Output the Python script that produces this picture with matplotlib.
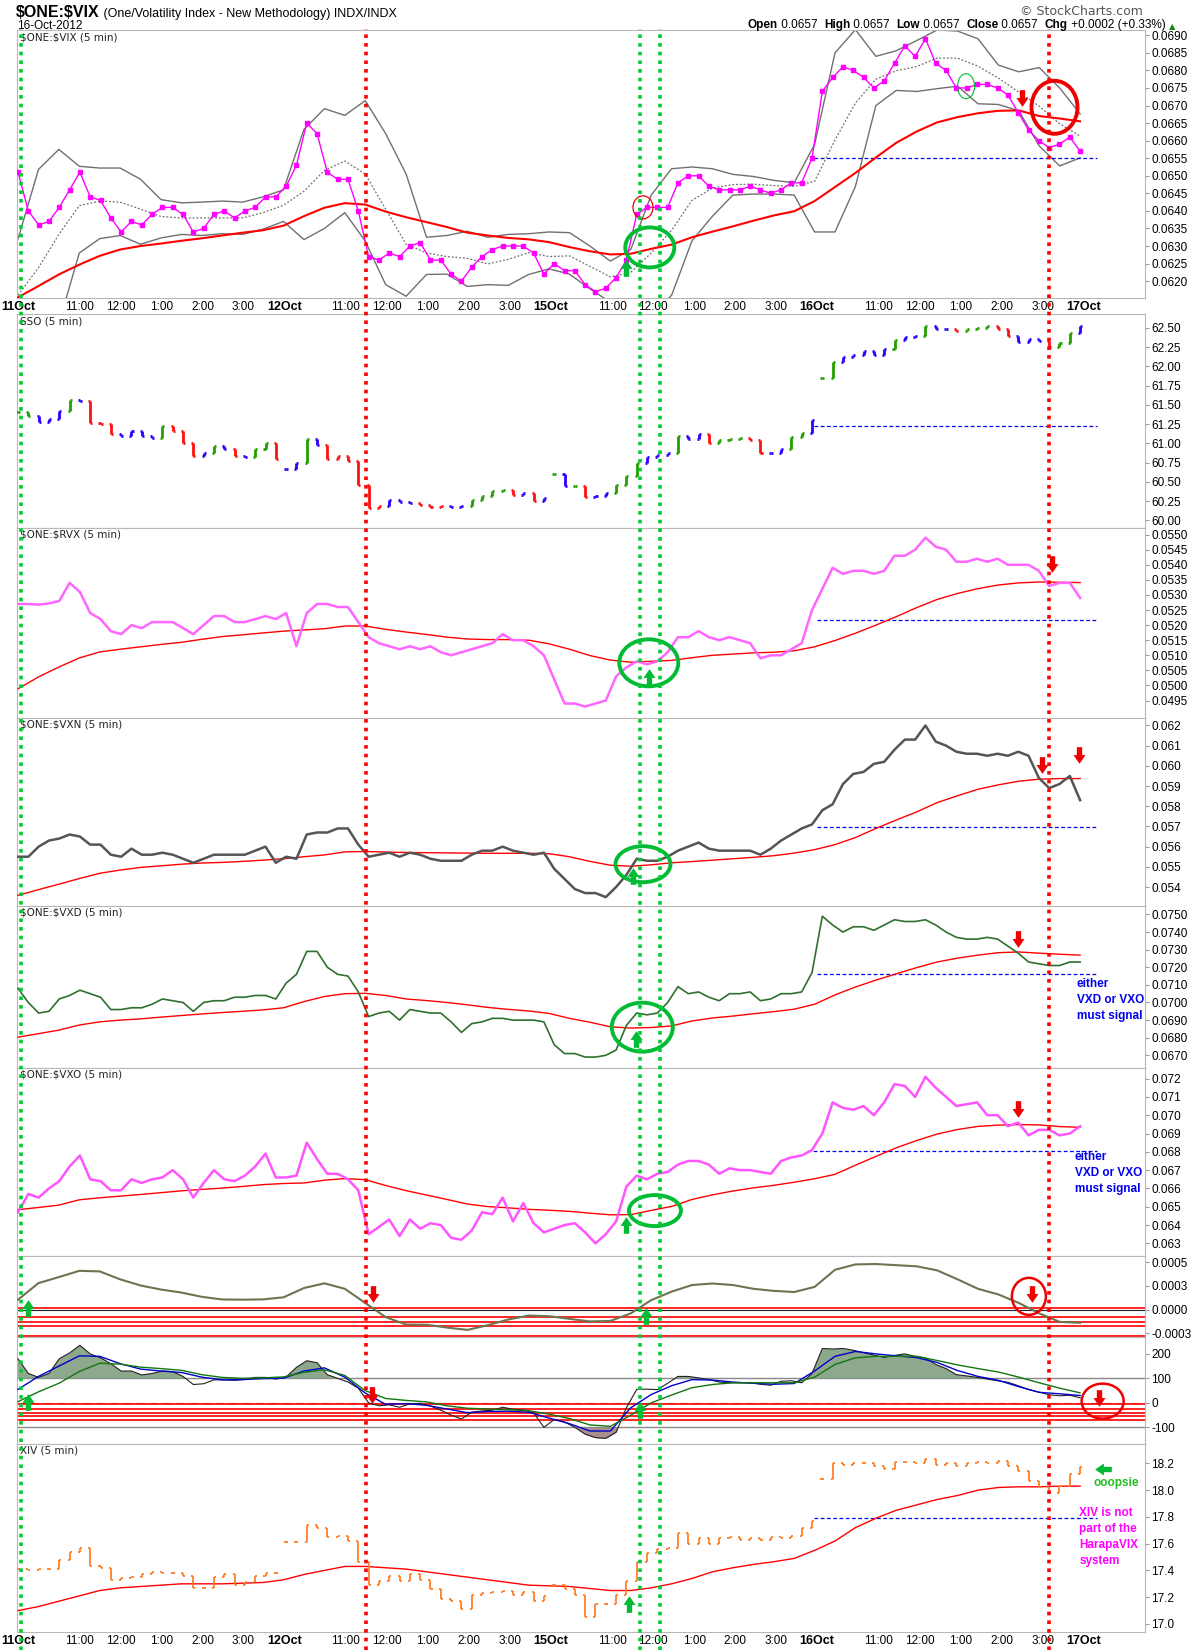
import numpy as np
import matplotlib
matplotlib.use("Agg")
import matplotlib.pyplot as plt
import matplotlib.transforms as mtransforms
from matplotlib.path import Path
from matplotlib.patches import Ellipse

plt.rcParams["font.family"] = ["Liberation Sans", "DejaVu Sans"]

# time axis: four sessions (11, 12, 15, 16 Oct) of 78 five-minute bars
bars_per_day = 78
day_labels = ["11Oct", "12Oct", "15Oct", "16Oct", "17Oct"]
hour_labels = ["11:00", "12:00", "1:00", "2:00", "3:00"]
hour_offsets = [18, 30, 42, 54, 66]
t = np.linspace(0, 311, 104)   # 15-minute samples
tc = np.linspace(0, 311, 53)   # 30-minute samples for smooth overlays
day_start_idx = [26, 52, 78]

# signal lines (bar index, colour)
signal_bars = [1, 102, 182, 188, 302]
signal_cols = ["#00cc33", "#ff0000", "#00cc33", "#00cc33", "#ff0000"]

# ---------------- $ONE:$VIX ----------------
vix = np.array([
    0.0651, 0.0640, 0.0636, 0.0637, 0.0641, 0.0646, 0.0651, 0.0644, 0.0643, 0.0638, 0.0634, 0.0637, 0.0636,
    0.0639, 0.0641, 0.0641, 0.0639, 0.0634, 0.0635, 0.0639, 0.0640, 0.0638, 0.0640, 0.0641, 0.0644, 0.0644,
    0.0647, 0.0653, 0.0665, 0.0662, 0.0651, 0.0649, 0.0649, 0.0640, 0.0627, 0.0626, 0.0628, 0.0627, 0.0630,
    0.0631, 0.0626, 0.0626, 0.0622, 0.0620, 0.0624, 0.0627, 0.0629, 0.0630, 0.0630, 0.0630, 0.0628, 0.0622,
    0.0625, 0.0623, 0.0623, 0.0619, 0.0617, 0.0618, 0.0621, 0.0626, 0.0639, 0.0641, 0.0641, 0.0641, 0.0648,
    0.0650, 0.0650, 0.0647, 0.0646, 0.0646, 0.0646, 0.0647, 0.0646, 0.0645, 0.0646, 0.0648, 0.0648, 0.0655,
    0.0674, 0.0678, 0.0681, 0.0680, 0.0678, 0.0675, 0.0677, 0.0682, 0.0687, 0.0684, 0.0689, 0.0682, 0.0680,
    0.0675, 0.0675, 0.0676, 0.0676, 0.0675, 0.0673, 0.0668, 0.0663, 0.0660, 0.0658, 0.0659, 0.0661, 0.0657])
vix_ma = np.array([
    0.06154, 0.06186, 0.06219, 0.06247, 0.06272, 0.06290, 0.06300, 0.06307, 0.06315, 0.06322, 0.06330, 0.06338, 0.06345,
    0.06358, 0.06385, 0.06409, 0.06422, 0.06418, 0.06398, 0.06382, 0.06368, 0.06354, 0.06338, 0.06330, 0.06323, 0.06319,
    0.06311, 0.06297, 0.06285, 0.06276, 0.06278, 0.06292, 0.06304, 0.06325, 0.06341, 0.06356, 0.06372, 0.06387, 0.06399,
    0.06428, 0.06468, 0.06508, 0.06552, 0.06594, 0.06626, 0.06652, 0.06667, 0.06678, 0.06685, 0.06686, 0.06670, 0.06663,
    0.06655])
vix_bb_up = np.array([
    0.0632, 0.06518, 0.06575, 0.06527, 0.06522, 0.06522, 0.0649, 0.06432, 0.06423, 0.06425, 0.06428, 0.06425, 0.0644,
    0.0646, 0.06632, 0.06691, 0.06672, 0.06714, 0.0662, 0.06505, 0.06325, 0.0633, 0.06342, 0.06325, 0.06333, 0.06335,
    0.0634, 0.06338, 0.063, 0.06257, 0.0629, 0.06445, 0.0652, 0.06525, 0.0652, 0.06504, 0.06498, 0.06487, 0.0648,
    0.06589, 0.0685, 0.06916, 0.0684, 0.06856, 0.06885, 0.06915, 0.06912, 0.0689, 0.06815, 0.06796, 0.06808, 0.0675,
    0.06676])
vix_bb_lo = np.array([
    0.0606, 0.0606, 0.0608, 0.0628, 0.06321, 0.0633, 0.06305, 0.06323, 0.06333, 0.0633, 0.06335, 0.06333, 0.06348,
    0.0637, 0.06318, 0.0635, 0.06395, 0.06314, 0.0619, 0.06157, 0.06219, 0.0622, 0.06185, 0.0619, 0.06188, 0.06219,
    0.06235, 0.0622, 0.06178, 0.0614, 0.0610, 0.0610, 0.0616, 0.06315, 0.06385, 0.06445, 0.06448, 0.06448, 0.06445,
    0.0634, 0.0634, 0.0647, 0.0670, 0.06743, 0.0674, 0.06748, 0.06755, 0.06705, 0.06703, 0.06685, 0.06585, 0.06528,
    0.06551])
vix_bb_mid = np.array([
    0.0616, 0.06238, 0.06333, 0.06415, 0.06428, 0.06425, 0.06405, 0.06384, 0.0638, 0.0638, 0.0638, 0.0638, 0.06395,
    0.06416, 0.06456, 0.06515, 0.06542, 0.06505, 0.06405, 0.06305, 0.0628, 0.0627, 0.06265, 0.06249, 0.06262, 0.06281,
    0.0627, 0.06272, 0.06242, 0.06212, 0.06225, 0.0628, 0.06345, 0.0643, 0.06465, 0.06475, 0.06476, 0.06472, 0.0647,
    0.06484, 0.06602, 0.06707, 0.06775, 0.06799, 0.06811, 0.06835, 0.06835, 0.06812, 0.06778, 0.06738, 0.06698, 0.06648,
    0.06613])

# ---------------- SSO ----------------
sso = np.array([
    61.41, 61.35, 61.28, 61.31, 61.42, 61.56, 61.55, 61.26, 61.25, 61.12, 61.10, 61.16, 61.09,
    61.07, 61.22, 61.16, 61.00, 60.83, 60.87, 60.96, 60.93, 60.84, 60.82, 60.93, 61.00, 60.80,
    60.66, 60.74, 61.05, 60.98, 60.79, 60.83, 60.77, 60.46, 60.16, 60.18, 60.27, 60.24, 60.22,
    60.20, 60.17, 60.19, 60.17, 60.18, 60.27, 60.32, 60.38, 60.40, 60.33, 60.36, 60.25, 60.29,
    60.60, 60.44, 60.45, 60.30, 60.32, 60.35, 60.46, 60.57, 60.75, 60.82, 60.85, 60.88, 61.10,
    61.06, 61.12, 61.00, 61.04, 61.06, 61.07, 61.04, 60.87, 60.87, 60.92, 61.08, 61.14, 61.30,
    61.85, 62.05, 62.12, 62.15, 62.20, 62.15, 62.22, 62.34, 62.38, 62.39, 62.52, 62.48, 62.48,
    62.46, 62.48, 62.50, 62.52, 62.48, 62.40, 62.32, 62.35, 62.33, 62.25, 62.30, 62.43, 62.53])
sso_trend = ("GGBBBGBRRRBBB" "BGRRRBGBRBGGR" "BBGBRRRRRRBBB" "RRRBBGGGGRBRB"
             "GBGRBBGGGBBBG" "BBRGGGRRBBGGB" "GGBBBBBGBBGBB" "RGGGRRBBBRGGB")

# ---------------- $ONE:$RVX ----------------
rvx = np.array([
    0.0527, 0.0527, 0.05268, 0.05272, 0.0528, 0.0534, 0.0531, 0.0524, 0.0522, 0.0518, 0.0517, 0.0520, 0.0519,
    0.0521, 0.0521, 0.0521, 0.0519, 0.0517, 0.0520, 0.0523, 0.0523, 0.0521, 0.0521, 0.0522, 0.0523, 0.0522,
    0.0524, 0.0513, 0.0524, 0.0527, 0.0527, 0.0526, 0.0526, 0.0521, 0.0516, 0.0514, 0.0513, 0.0512, 0.0513,
    0.0512, 0.0513, 0.0511, 0.0510, 0.0511, 0.0512, 0.0513, 0.0514, 0.0517, 0.0515, 0.0515, 0.0513, 0.0510,
    0.0502, 0.0494, 0.0494, 0.0493, 0.0494, 0.0495, 0.0503, 0.0506, 0.0508, 0.0507, 0.0508, 0.0511, 0.0516,
    0.0516, 0.0518, 0.0516, 0.0515, 0.0516, 0.0515, 0.0514, 0.0509, 0.0510, 0.0510, 0.0512, 0.0514, 0.0525,
    0.0532, 0.0539, 0.0537, 0.0538, 0.0538, 0.0537, 0.0538, 0.0543, 0.0543, 0.0545, 0.0549, 0.0546, 0.0545,
    0.0541, 0.0541, 0.0542, 0.0541, 0.0542, 0.0540, 0.0540, 0.0540, 0.0538, 0.0533, 0.0534, 0.0534, 0.0529])
rvx_ma = np.array([
    0.04989, 0.05028, 0.05061, 0.05091, 0.05111, 0.05120, 0.05128, 0.05136, 0.05143, 0.05153, 0.05162, 0.05168, 0.05174,
    0.05180, 0.05184, 0.05188, 0.05197, 0.05197, 0.05186, 0.05177, 0.05169, 0.05160, 0.05154, 0.05152, 0.05152, 0.05150,
    0.05138, 0.05120, 0.05099, 0.05084, 0.05077, 0.05080, 0.05083, 0.05092, 0.05100, 0.05104, 0.05108, 0.05110, 0.05115,
    0.05128, 0.05149, 0.05173, 0.05200, 0.05228, 0.05258, 0.05285, 0.05305, 0.05321, 0.05333, 0.05340, 0.05343, 0.05342,
    0.05341])

# ---------------- $ONE:$VXN ----------------
vxn = np.array([
    0.0555, 0.0555, 0.0560, 0.0563, 0.0564, 0.0566, 0.0565, 0.0561, 0.0561, 0.0556, 0.0555, 0.0559, 0.0556,
    0.0556, 0.0557, 0.0556, 0.0554, 0.0552, 0.0554, 0.0556, 0.0556, 0.0556, 0.0556, 0.0558, 0.0560, 0.0552,
    0.0555, 0.0554, 0.0566, 0.0567, 0.0567, 0.0569, 0.0569, 0.0561, 0.0555, 0.0556, 0.0557, 0.0555, 0.0557,
    0.0556, 0.0554, 0.0553, 0.0553, 0.0553, 0.0556, 0.0558, 0.0558, 0.0560, 0.0558, 0.0557, 0.0556, 0.0557,
    0.0549, 0.0544, 0.0539, 0.0537, 0.0537, 0.0535, 0.0540, 0.0546, 0.0554, 0.0553, 0.0553, 0.0555, 0.0558,
    0.0560, 0.0562, 0.0559, 0.0558, 0.0558, 0.0558, 0.0558, 0.0556, 0.0559, 0.0563, 0.0566, 0.0569, 0.0571,
    0.0578, 0.0581, 0.0591, 0.0596, 0.0597, 0.0601, 0.0602, 0.0608, 0.0613, 0.0613, 0.0620, 0.0612, 0.0610,
    0.0607, 0.0606, 0.0606, 0.0605, 0.0606, 0.0605, 0.0607, 0.0605, 0.0594, 0.0589, 0.0591, 0.0595, 0.0583])
vxn_ma = np.array([
    0.05359, 0.05387, 0.05414, 0.05442, 0.05468, 0.05484, 0.05497, 0.05505, 0.05513, 0.05519, 0.05522, 0.05527, 0.05533,
    0.05540, 0.05550, 0.05559, 0.05574, 0.05576, 0.05573, 0.05571, 0.05570, 0.05569, 0.05568, 0.05567, 0.05567, 0.05567,
    0.05565, 0.05550, 0.05527, 0.05508, 0.05503, 0.05510, 0.05520, 0.05526, 0.05533, 0.05540, 0.05547, 0.05555, 0.05568,
    0.05585, 0.05610, 0.05645, 0.05690, 0.05732, 0.05772, 0.05818, 0.05852, 0.05884, 0.05906, 0.05924, 0.05934, 0.05937,
    0.05937])

# ---------------- $ONE:$VXD ----------------
vxd = np.array([
    0.0708, 0.0700, 0.0694, 0.0695, 0.0702, 0.0704, 0.0707, 0.0705, 0.0703, 0.0696, 0.0696, 0.0697, 0.0697,
    0.0699, 0.0702, 0.0701, 0.0700, 0.0695, 0.0700, 0.0701, 0.0701, 0.0703, 0.0703, 0.0704, 0.0704, 0.0702,
    0.0711, 0.0716, 0.0729, 0.0729, 0.0720, 0.0716, 0.0715, 0.0706, 0.0692, 0.0694, 0.0695, 0.0690, 0.0696,
    0.0695, 0.0694, 0.0694, 0.0689, 0.0683, 0.0688, 0.0689, 0.0691, 0.0691, 0.0690, 0.0690, 0.0690, 0.0689,
    0.0676, 0.0671, 0.0671, 0.0669, 0.0669, 0.0670, 0.0673, 0.0687, 0.0694, 0.0693, 0.0694, 0.0700, 0.0709,
    0.0705, 0.0706, 0.0703, 0.0701, 0.0705, 0.0705, 0.0706, 0.0701, 0.0702, 0.0705, 0.0705, 0.0706, 0.0717,
    0.0749, 0.0744, 0.0740, 0.0743, 0.0743, 0.0741, 0.0744, 0.0747, 0.0746, 0.0746, 0.0747, 0.0744, 0.0740,
    0.0737, 0.0736, 0.0736, 0.0737, 0.0736, 0.0732, 0.0728, 0.0723, 0.0722, 0.0721, 0.0721, 0.0723, 0.0723])
vxd_ma = np.array([
    0.06803, 0.06823, 0.06843, 0.06872, 0.06890, 0.06900, 0.06907, 0.06917, 0.06926, 0.06935, 0.06943, 0.06950, 0.06958,
    0.06970, 0.07005, 0.07034, 0.07050, 0.07052, 0.07040, 0.07020, 0.07011, 0.07000, 0.06987, 0.06972, 0.06961, 0.06952,
    0.06938, 0.06910, 0.06888, 0.06862, 0.06855, 0.06858, 0.06867, 0.06895, 0.06912, 0.06923, 0.06936, 0.06948, 0.06962,
    0.06990, 0.07043, 0.07088, 0.07127, 0.07163, 0.07198, 0.07230, 0.07252, 0.07269, 0.07283, 0.07287, 0.07280, 0.07274,
    0.07269])

# ---------------- $ONE:$VXO ----------------
vxo = np.array([
    0.0647, 0.0657, 0.0655, 0.0660, 0.0664, 0.0672, 0.0678, 0.0665, 0.0664, 0.0659, 0.0659, 0.0665, 0.0663,
    0.0665, 0.0666, 0.0670, 0.0665, 0.0655, 0.0663, 0.0670, 0.0665, 0.0664, 0.0667, 0.0672, 0.0679, 0.0666,
    0.0666, 0.0667, 0.0685, 0.0676, 0.0668, 0.0668, 0.0665, 0.0659, 0.0635, 0.0639, 0.0643, 0.0634, 0.0643,
    0.0638, 0.0641, 0.0640, 0.0633, 0.0632, 0.0637, 0.0647, 0.0646, 0.0655, 0.0642, 0.0652, 0.0641, 0.0636,
    0.0638, 0.0640, 0.0641, 0.0636, 0.0630, 0.0635, 0.0642, 0.0661, 0.0667, 0.0665, 0.0668, 0.0669, 0.0673,
    0.0675, 0.0675, 0.0673, 0.0668, 0.0671, 0.0670, 0.0670, 0.0669, 0.0668, 0.0675, 0.0677, 0.0678, 0.0681,
    0.0690, 0.0707, 0.0704, 0.0703, 0.0705, 0.0700, 0.0707, 0.0717, 0.0716, 0.0710, 0.0721, 0.0715, 0.0710,
    0.0705, 0.0706, 0.0707, 0.0700, 0.0700, 0.0694, 0.0696, 0.0689, 0.0692, 0.0692, 0.0689, 0.0690, 0.0694])
vxo_ma = np.array([
    0.06484, 0.06496, 0.06509, 0.06538, 0.06549, 0.06558, 0.06567, 0.06577, 0.06587, 0.06595, 0.06602, 0.06611, 0.06621,
    0.06627, 0.06630, 0.06645, 0.06654, 0.06648, 0.06616, 0.06588, 0.06564, 0.06540, 0.06515, 0.06501, 0.06494, 0.06486,
    0.06481, 0.06475, 0.06465, 0.06456, 0.06457, 0.06480, 0.06502, 0.06540, 0.06565, 0.06586, 0.06603, 0.06617, 0.06634,
    0.06653, 0.06677, 0.06727, 0.06775, 0.06822, 0.06862, 0.06897, 0.06922, 0.06939, 0.06946, 0.06949, 0.06947, 0.06938,
    0.06934])

# ---------------- oscillator panel ----------------
osc = np.array([
    0.000105, 0.00028, 0.000344, 0.00041, 0.000404, 0.00032, 0.000255, 0.000212, 0.00018, 0.000135, 0.000107, 0.000105, 0.000108,
    0.00013, 0.000228, 0.000278, 0.00022, 0.00007, -0.00008, -0.000158, -0.00016, -0.00019, -0.000215, -0.000165, -0.000105, -0.000063,
    -0.00007, -0.000098, -0.000125, -0.00012, -0.00004, 0.0001, 0.00019, 0.00026, 0.000276, 0.00026, 0.00022, 0.000198, 0.000186,
    0.00024, 0.000421, 0.000478, 0.000482, 0.00047, 0.000458, 0.000415, 0.00032, 0.00022, 0.00016, 0.00007, -0.00004, -0.00013,
    -0.00014])
osc_levels = [0.00002, -0.00008, -0.00013, -0.000175, -0.00028]

# ---------------- CCI style panel ----------------
cci = np.array([
    180, 120, 104, 120, 180, 204, 235, 200, 184, 160, 130, 130, 114,
    120, 130, 128, 108, 75, 78, 94, 94, 92, 96, 104, 104, 97,
    105, 145, 172, 164, 115, 100, 85, 60, 0, -12, -8, -18, -4,
    -2, -13, -30, -50, -66, -38, -33, -30, -18, -26, -29, -40, -100,
    -68, -78, -100, -128, -142, -145, -120, -20, 55, 56, 54, 80, 108,
    108, 102, 95, 85, 82, 82, 82, 76, 72, 88, 90, 82, 120,
    222, 220, 222, 215, 205, 195, 186, 194, 200, 190, 184, 157, 140,
    115, 110, 104, 97, 90, 84, 70, 54, 44, 33, 29, 31, 21])
cci_fast = np.array([
    55, 108, 150, 192, 190, 160, 138, 130, 124, 105, 94, 95, 99,
    101, 130, 143, 105, 40, -6, -3, -10, -25, -40, -35, -34, -38,
    -62, -85, -115, -115, -20, 34, 70, 95, 93, 85, 80, 76, 79,
    130, 190, 210, 200, 192, 185, 165, 132, 108, 92, 66, 43, 37,
    30])
cci_slow = np.array([
    5, 45, 80, 128, 162, 158, 146, 140, 133, 115, 104, 100, 102,
    106, 125, 135, 112, 50, 18, 10, 4, -12, -22, -25, -28, -32,
    -46, -64, -90, -96, -50, 0, 32, 62, 75, 82, 82, 82, 82,
    105, 157, 184, 190, 190, 190, 173, 155, 140, 126, 105, 82, 60,
    41])
cci_levels = [-6, -24, -40, -54, -68]

# ---------------- XIV ----------------
xiv = np.array([
    17.41, 17.40, 17.41, 17.41, 17.48, 17.54, 17.57, 17.43, 17.42, 17.33, 17.34, 17.35, 17.37,
    17.39, 17.38, 17.38, 17.36, 17.27, 17.27, 17.35, 17.37, 17.29, 17.31, 17.36, 17.38, 17.38,
    17.61, 17.61, 17.74, 17.72, 17.65, 17.66, 17.62, 17.46, 17.29, 17.32, 17.36, 17.32, 17.37,
    17.33, 17.26, 17.19, 17.17, 17.11, 17.22, 17.23, 17.24, 17.25, 17.22, 17.24, 17.17, 17.21,
    17.29, 17.26, 17.22, 17.05, 17.15, 17.15, 17.22, 17.32, 17.46, 17.53, 17.56, 17.57, 17.68,
    17.60, 17.64, 17.60, 17.64, 17.65, 17.63, 17.64, 17.63, 17.65, 17.64, 17.66, 17.72, 17.77,
    18.08, 18.20, 18.19, 18.20, 18.20, 18.18, 18.16, 18.21, 18.21, 18.20, 18.23, 18.19, 18.20,
    18.18, 18.20, 18.21, 18.20, 18.22, 18.18, 18.14, 18.07, 18.02, 17.98, 18.03, 18.12, 18.17])
xiv_ma = np.array([
    17.10, 17.13, 17.17, 17.21, 17.25, 17.27, 17.28, 17.29, 17.30, 17.30, 17.30, 17.305, 17.31,
    17.33, 17.37, 17.40, 17.43, 17.43, 17.42, 17.41, 17.39, 17.37, 17.35, 17.33, 17.31, 17.29,
    17.285, 17.28, 17.265, 17.25, 17.25, 17.27, 17.30, 17.34, 17.39, 17.42, 17.445, 17.465, 17.49,
    17.55, 17.62, 17.72, 17.79, 17.85, 17.89, 17.93, 17.96, 18.00, 18.02, 18.025, 18.025, 18.03,
    18.03])

# prior-day close references (blue dashed): (level, first bar)
ref_vix = (0.0655, 233)
ref_sso = (61.23, 233)
ref_rvx = (0.05218, 234)
ref_vxn = (0.05699, 234)
ref_vxd = (0.07159, 234)
ref_vxo = (0.06807, 231)
ref_xiv = (17.79, 233)

# ---------------------------------------------------------------
W, H = 1200, 1650
fig = plt.figure(figsize=(W / 100, H / 100), dpi=100)
LEFT, RIGHT = 17, 1145
XLIM = (-0.3, 330)


def panel(top, bottom, ylim, ticks, fmt):
    ax = fig.add_axes([LEFT / W, 1 - bottom / H, (RIGHT - LEFT) / W, (bottom - top) / H])
    ax.set_xlim(*XLIM)
    ax.set_ylim(*ylim)
    ax.yaxis.tick_right()
    ax.set_yticks(ticks, [fmt(v) for v in ticks])
    ax.tick_params(axis="y", length=3, width=0.8, pad=1.5, labelsize=8.5, color="#999999")
    ax.tick_params(axis="x", length=0, labelbottom=False)
    for s in ax.spines.values():
        s.set_color("#b8b8b8")
    return ax


def name(ax, text):
    ax.text(0.003, 0.99, text, transform=ax.transAxes, va="top", ha="left",
            fontsize=7.5, family="DejaVu Sans", color="#222222")


def ref_line(ax, ref):
    ax.hlines(ref[0], ref[1], 316, colors="#0000ee", lw=0.9, linestyles=(0, (3, 2)), zorder=2)


def ma_line(ax, y, lw=1.0):
    ax.plot(tc, y, color="#ff0000", lw=lw, zorder=3)


def price_bars(ax, close, colors, lw):
    opens = np.r_[close[0], close[:-1]]
    opens[day_start_idx] = close[day_start_idx]
    ax.vlines(t, np.minimum(opens, close), np.maximum(opens, close), colors=colors, lw=lw, zorder=3)
    ax.hlines(opens, t - 0.6, t, colors=colors, lw=lw, zorder=3)
    ax.hlines(close, t, t + 0.6, colors=colors, lw=lw, zorder=3)


def ring(ax, x, y, w, h, color, lw):
    tr = fig.dpi_scale_trans + mtransforms.ScaledTranslation(x, y, ax.transData)
    ax.add_patch(Ellipse((0, 0), w / 100, h / 100, transform=tr, fill=False,
                         ec=color, lw=lw, clip_on=False, zorder=7))


_down = np.array([(-0.32, 1), (0.32, 1), (0.32, 0.05), (0.72, 0.05), (0, -1),
                  (-0.72, 0.05), (-0.32, 0.05), (-0.32, 1)])
ARROW = {
    "down": Path(_down, closed=True),
    "up": Path(_down * [1, -1], closed=True),
    "left": Path(_down[:, ::-1], closed=True),
}


def arrow(ax, x, y, kind, color, ms=12):
    ax.plot([x], [y], marker=ARROW[kind], ms=ms, color=color, mec="none",
            ls="none", zorder=8, clip_on=False)


RED, GREEN = "#ee0000", "#00bb33"

# -------- panel 1: VIX with Bollinger bands --------
ax1 = panel(30, 298, (0.06152, 0.06915), np.arange(0.0620, 0.06901, 0.0005), lambda v: f"{v:.4f}")
name(ax1, "\\$ONE:\\$VIX (5 min)")
ax1.plot(tc, vix_bb_up, color="#707070", lw=1.0, zorder=2)
ax1.plot(tc, vix_bb_lo, color="#707070", lw=1.0, zorder=2)
ax1.plot(tc, vix_bb_mid, color="#707070", lw=0.9, ls=(0, (1.5, 1.5)), zorder=2)
ma_line(ax1, vix_ma, lw=1.5)
ref_line(ax1, ref_vix)
ax1.plot(t, vix, color="#ff00ff", lw=1.0, marker="s", ms=2.4, zorder=4)
ring(ax1, 183, 0.0641, 20, 23, RED, 0.9)
ring(ax1, 185, 0.06296, 49, 40, GREEN, 2.8)
arrow(ax1, 178, 0.06238, "up", GREEN)
ring(ax1, 277.6, 0.06755, 17, 25, GREEN, 0.8)
arrow(ax1, 294, 0.06722, "down", RED)
ring(ax1, 303.5, 0.06695, 46, 53, RED, 2.8)

# -------- panel 2: SSO --------
ax2 = panel(314, 528, (59.90, 62.68), np.arange(60.0, 62.51, 0.25), lambda v: f"{v:.2f}")
name(ax2, "SSO (5 min)")
trend_cols = {"G": "#22a000", "B": "#2a00ff", "R": "#ff1010"}
price_bars(ax2, sso, [trend_cols[c] for c in sso_trend], 2.0)
ref_line(ax2, ref_sso)

# -------- panel 3: RVX --------
ax3 = panel(528, 718, (0.04892, 0.05522), np.arange(0.0495, 0.05501, 0.0005), lambda v: f"{v:.4f}")
name(ax3, "\\$ONE:\\$RVX (5 min)")
ma_line(ax3, rvx_ma)
ref_line(ax3, ref_rvx)
ax3.plot(t, rvx, color="#ff66ff", lw=1.8, zorder=4)
ring(ax3, 184.7, 0.05075, 59, 47, GREEN, 2.8)
arrow(ax3, 184.7, 0.05028, "up", GREEN)
arrow(ax3, 302.8, 0.05404, "down", RED)

# -------- panel 4: VXN --------
ax4 = panel(718, 906, (0.05306, 0.06237), np.arange(0.054, 0.06201, 0.001), lambda v: f"{v:.3f}")
name(ax4, "\\$ONE:\\$VXN (5 min)")
ma_line(ax4, vxn_ma)
ref_line(ax4, ref_vxn)
ax4.plot(t, vxn, color="#555555", lw=1.8, zorder=4)
ring(ax4, 183, 0.05513, 55, 36, GREEN, 2.8)
arrow(ax4, 180, 0.05456, "up", GREEN)
arrow(ax4, 299.7, 0.06003, "down", RED)
arrow(ax4, 310.7, 0.06055, "down", RED)

# -------- panel 5: VXD --------
ax5 = panel(906, 1068, (0.06628, 0.07548), np.arange(0.0670, 0.07501, 0.001), lambda v: f"{v:.4f}")
name(ax5, "\\$ONE:\\$VXD (5 min)")
ma_line(ax5, vxd_ma)
ref_line(ax5, ref_vxd)
ax5.plot(t, vxd, color="#2f6f2f", lw=1.2, zorder=4)
ring(ax5, 182.8, 0.0686, 61, 49, GREEN, 2.8)
arrow(ax5, 181, 0.06793, "up", GREEN)
arrow(ax5, 292.8, 0.07361, "down", RED)
ax5.text(310, 0.07014, "either\nVXD or VXO\nmust signal", color="#0000ee", fontsize=8.5,
         fontweight="bold", va="center", ha="left", linespacing=1.45, zorder=8)

# -------- panel 6: VXO --------
ax6 = panel(1068, 1256, (0.06231, 0.07258), np.arange(0.063, 0.07201, 0.001), lambda v: f"{v:.3f}")
name(ax6, "\\$ONE:\\$VXO (5 min)")
ma_line(ax6, vxo_ma)
ref_line(ax6, ref_vxo)
ax6.plot(t, vxo, color="#ff55ff", lw=1.8, zorder=4)
ring(ax6, 186.5, 0.06479, 52, 31, GREEN, 2.8)
arrow(ax6, 178, 0.06399, "up", GREEN)
arrow(ax6, 292.7, 0.07035, "down", RED)
ax6.text(309.4, 0.06684, "either\nVXD or VXO\nmust signal", color="#0000ee", fontsize=8.5,
         fontweight="bold", va="center", ha="left", linespacing=1.45, zorder=8)

# -------- panel 7: oscillator --------
ax7 = panel(1256, 1337, (-0.00029, 0.000567), [0.0005, 0.00025, 0.0, -0.00025],
            lambda v: {0.0005: "0.0005", 0.00025: "0.0003", 0.0: "0.0000", -0.00025: "-0.0003"}[v])
ax7.axhline(0, color="#222222", lw=0.8, zorder=1)
for lv in osc_levels:
    ax7.axhline(lv, color="#ff0000", lw=1.2, zorder=2)
ax7.plot(tc, osc, color="#6b7550", lw=1.5, zorder=4)
arrow(ax7, 3, 0.000014, "up", GREEN)
arrow(ax7, 104, 0.000161, "down", RED)
arrow(ax7, 184, -0.00007, "up", GREEN)
arrow(ax7, 297, 0.000168, "down", RED)
ring(ax7, 296, 0.00014, 34, 37, RED, 1.8)

# -------- panel 8: CCI style --------
ax8 = panel(1337, 1444, (-168, 269), [200, 100, 0, -100], lambda v: f"{v:d}")
ax8.axhline(100, color="#888888", lw=1.0, zorder=1)
ax8.axhline(-100, color="#888888", lw=1.0, zorder=1)
ax8.axhline(0, color="#999999", lw=0.9, ls="-.", zorder=1)
for lv in cci_levels:
    ax8.axhline(lv, color="#ff0000", lw=1.2, zorder=2)
ax8.fill_between(t, cci, 100, where=cci > 100, interpolate=True, color="#8da88d", lw=0, zorder=2)
ax8.fill_between(t, cci, -100, where=cci < -100, interpolate=True, color="#a8918c", lw=0, zorder=2)
ax8.plot(t, cci, color="#222222", lw=0.8, zorder=4)
ax8.plot(tc, cci_fast, color="#0000cc", lw=1.0, zorder=4)
ax8.plot(tc, cci_slow, color="#117711", lw=1.0, zorder=4)
arrow(ax8, 2.8, 5, "up", GREEN)
arrow(ax8, 103.6, 32, "down", RED)
arrow(ax8, 182, -29, "up", GREEN)
arrow(ax8, 316.5, 21, "down", RED)
ring(ax8, 317.6, 7, 42, 35, RED, 1.8)

# -------- panel 9: XIV --------
ax9 = panel(1444, 1632, (16.94, 18.345), np.arange(17.0, 18.21, 0.2), lambda v: f"{v:.1f}")
name(ax9, "XIV (5 min)")
ma_line(ax9, xiv_ma)
ref_line(ax9, ref_xiv)
price_bars(ax9, xiv, "#ff7f27", 1.3)
arrow(ax9, 178.9, 17.15, "up", GREEN)
arrow(ax9, 317.6, 18.16, "left", GREEN)
ax9.text(315, 18.055, "ooopsie", color="#22bb22", fontsize=8.5, fontweight="bold",
         va="center", ha="left", zorder=8)
ax9.text(310.8, 17.65, "XIV is not\npart of the\nHarapaVIX\nsystem", color="#ff00ff", fontsize=8.5,
         fontweight="bold", va="center", ha="left", linespacing=1.45, zorder=8)

# -------- time axis labels (top chart and bottom chart) --------
pos, labs = [], []
for d, dl in enumerate(day_labels):
    pos.append(d * bars_per_day)
    labs.append(dl)
    if d < len(day_labels) - 1:
        for off, hl in zip(hour_offsets, hour_labels):
            pos.append(d * bars_per_day + off)
            labs.append(hl)
for ax in (ax1, ax9):
    ax.set_xticks(pos, labs)
    ax.tick_params(axis="x", labelbottom=True, pad=2, labelsize=8.5)
    for lab in ax.get_xticklabels():
        if "Oct" in lab.get_text():
            lab.set_fontweight("bold")
            lab.set_fontsize(9)

# -------- vertical signal lines spanning all panels --------
ov = fig.add_axes([LEFT / W, 0, (RIGHT - LEFT) / W, 1 - 29 / H], zorder=5)
ov.set_xlim(*XLIM)
ov.set_ylim(0, 1)
ov.axis("off")
for xb, c in zip(signal_bars, signal_cols):
    ov.axvline(xb, color=c, lw=2.6, ls=(0, (1.0, 1.4)))

# -------- header --------
head = fig.text(16 / W, 1 - 17 / H, "\\$ONE:\\$VIX", fontsize=11.5, fontweight="bold", va="baseline")
ax1.annotate(" (One/Volatility Index - New Methodology) INDX/INDX", xy=(1, 0), xycoords=head,
             va="bottom", ha="left", fontsize=9, annotation_clip=False)
fig.text(17 / W, 1 - 29 / H, "16-Oct-2012", fontsize=8.5, va="baseline")
fig.text(1143 / W, 1 - 15 / H, "\u00a9 StockCharts.com", fontsize=9, color="#555555",
         ha="right", va="baseline", family=["DejaVu Sans"])

quote = [("Open", True), (" 0.0657  ", False), ("High", True), (" 0.0657  ", False),
         ("Low", True), (" 0.0657  ", False), ("Close", True), (" 0.0657  ", False),
         ("Chg", True), (" +0.0002 (+0.33%) ", False)]
prev = fig.text(748 / W, 1 - 28 / H, quote[0][0], fontsize=8.5, fontweight="bold", va="baseline")
for s, b in quote[1:]:
    prev = ax1.annotate(s, xy=(1, 0), xycoords=prev, va="bottom", ha="left", fontsize=8.5,
                        fontweight="bold" if b else "normal", annotation_clip=False)
ax1.annotate("\u25b2", xy=(1, 0), xycoords=prev, va="bottom", ha="left", fontsize=6,
             color="#118811", family=["DejaVu Sans"], annotation_clip=False)

fig.savefig("out.png", dpi=100)
